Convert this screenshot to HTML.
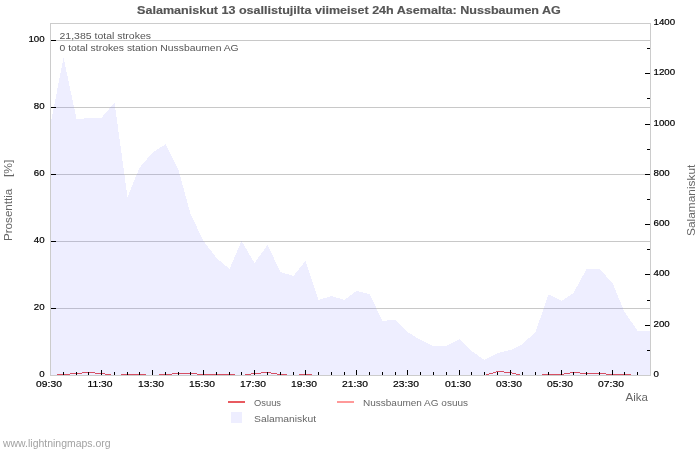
<!DOCTYPE html>
<html><head><meta charset="utf-8"><style>
html,body{margin:0;padding:0;background:#fff;}
body{width:700px;height:450px;overflow:hidden;}
svg{display:block;will-change:transform;}
text{font-family:"Liberation Sans", sans-serif;}
</style></head><body>
<svg width="700" height="450" viewBox="0 0 700 450">
<rect x="0" y="0" width="700" height="450" fill="#fff"/>
<rect x="51" y="40" width="599" height="1" fill="#c8c8c8"/>
<rect x="51" y="107" width="599" height="1" fill="#c8c8c8"/>
<rect x="51" y="174" width="599" height="1" fill="#c8c8c8"/>
<rect x="51" y="241" width="599" height="1" fill="#c8c8c8"/>
<rect x="51" y="308" width="599" height="1" fill="#c8c8c8"/>
<polygon points="51,375 51,122 63.5,57.5 76.5,118.8 88.5,118.3 101.5,117.7 114.5,102.5 127.5,197 139.5,167.7 152.5,152.6 165.5,144.3 178.5,170 190.5,214 203.5,241 216.5,258 229.5,269 241.5,241 254.5,263 267.5,245 280.5,272 293.5,276 305.5,261 318.5,300 331.5,296 344.5,300 356.5,291 369.5,294 382.5,321 395.5,319.5 407.5,332 420.5,340 433.5,346 446.5,346 459.5,339 471.5,351 484.5,360 497.5,353 510.5,350 522.5,344 535.5,332 548.5,294.5 561.5,301 573.5,293 586.5,269 599.5,269 612.5,283 624.5,312 637.5,330.5 650,330.5 650,375" fill="rgb(121,121,255)" fill-opacity="0.127" shape-rendering="crispEdges"/>
<rect x="496" y="371" width="8" height="1" fill="#d64e62"/>
<rect x="82" y="372" width="13" height="1" fill="#d64e62"/>
<rect x="261" y="372" width="10" height="1" fill="#d64e62"/>
<rect x="493" y="372" width="3" height="1" fill="#d64e62"/>
<rect x="504" y="372" width="8" height="1" fill="#d64e62"/>
<rect x="570" y="372" width="10" height="1" fill="#d64e62"/>
<rect x="70" y="373" width="12" height="1" fill="#d64e62"/>
<rect x="95" y="373" width="10" height="1" fill="#d64e62"/>
<rect x="172" y="373" width="25" height="1" fill="#d64e62"/>
<rect x="251" y="373" width="10" height="1" fill="#d64e62"/>
<rect x="271" y="373" width="6" height="1" fill="#d64e62"/>
<rect x="489" y="373" width="4" height="1" fill="#d64e62"/>
<rect x="512" y="373" width="4" height="1" fill="#d64e62"/>
<rect x="564" y="373" width="6" height="1" fill="#d64e62"/>
<rect x="580" y="373" width="26" height="1" fill="#d64e62"/>
<rect x="57" y="374" width="13" height="1" fill="#d64e62"/>
<rect x="105" y="374" width="6" height="1" fill="#d64e62"/>
<rect x="121" y="374" width="25" height="1" fill="#d64e62"/>
<rect x="159" y="374" width="13" height="1" fill="#d64e62"/>
<rect x="197" y="374" width="38" height="1" fill="#d64e62"/>
<rect x="245" y="374" width="6" height="1" fill="#d64e62"/>
<rect x="277" y="374" width="10" height="1" fill="#d64e62"/>
<rect x="299" y="374" width="13" height="1" fill="#d64e62"/>
<rect x="486" y="374" width="3" height="1" fill="#d64e62"/>
<rect x="516" y="374" width="4" height="1" fill="#d64e62"/>
<rect x="542" y="374" width="22" height="1" fill="#d64e62"/>
<rect x="606" y="374" width="25" height="1" fill="#d64e62"/>
<rect x="50" y="23" width="601" height="1" fill="#cccccc"/>
<rect x="50" y="375" width="601" height="1" fill="#cccccc"/>
<rect x="50" y="23" width="1" height="353" fill="#cccccc"/>
<rect x="650" y="23" width="1" height="353" fill="#cccccc"/>
<rect x="51" y="40" width="5" height="1" fill="#000"/>
<rect x="51" y="107" width="5" height="1" fill="#000"/>
<rect x="51" y="174" width="5" height="1" fill="#000"/>
<rect x="51" y="241" width="5" height="1" fill="#000"/>
<rect x="51" y="308" width="5" height="1" fill="#000"/>
<rect x="647" y="350" width="3" height="1" fill="#000"/>
<rect x="645" y="325" width="5" height="1" fill="#000"/>
<rect x="647" y="300" width="3" height="1" fill="#000"/>
<rect x="645" y="274" width="5" height="1" fill="#000"/>
<rect x="647" y="249" width="3" height="1" fill="#000"/>
<rect x="645" y="224" width="5" height="1" fill="#000"/>
<rect x="647" y="199" width="3" height="1" fill="#000"/>
<rect x="645" y="174" width="5" height="1" fill="#000"/>
<rect x="647" y="149" width="3" height="1" fill="#000"/>
<rect x="645" y="124" width="5" height="1" fill="#000"/>
<rect x="647" y="98" width="3" height="1" fill="#000"/>
<rect x="645" y="73" width="5" height="1" fill="#000"/>
<rect x="647" y="48" width="3" height="1" fill="#000"/>
<rect x="63" y="372" width="1" height="3" fill="#000"/>
<rect x="76" y="372" width="1" height="3" fill="#000"/>
<rect x="88" y="372" width="1" height="3" fill="#000"/>
<rect x="101" y="370" width="1" height="5" fill="#000"/>
<rect x="114" y="372" width="1" height="3" fill="#000"/>
<rect x="127" y="372" width="1" height="3" fill="#000"/>
<rect x="139" y="372" width="1" height="3" fill="#000"/>
<rect x="152" y="370" width="1" height="5" fill="#000"/>
<rect x="165" y="372" width="1" height="3" fill="#000"/>
<rect x="178" y="372" width="1" height="3" fill="#000"/>
<rect x="190" y="372" width="1" height="3" fill="#000"/>
<rect x="203" y="370" width="1" height="5" fill="#000"/>
<rect x="216" y="372" width="1" height="3" fill="#000"/>
<rect x="229" y="372" width="1" height="3" fill="#000"/>
<rect x="241" y="372" width="1" height="3" fill="#000"/>
<rect x="254" y="370" width="1" height="5" fill="#000"/>
<rect x="267" y="372" width="1" height="3" fill="#000"/>
<rect x="280" y="372" width="1" height="3" fill="#000"/>
<rect x="293" y="372" width="1" height="3" fill="#000"/>
<rect x="305" y="370" width="1" height="5" fill="#000"/>
<rect x="318" y="372" width="1" height="3" fill="#000"/>
<rect x="331" y="372" width="1" height="3" fill="#000"/>
<rect x="344" y="372" width="1" height="3" fill="#000"/>
<rect x="356" y="370" width="1" height="5" fill="#000"/>
<rect x="369" y="372" width="1" height="3" fill="#000"/>
<rect x="382" y="372" width="1" height="3" fill="#000"/>
<rect x="395" y="372" width="1" height="3" fill="#000"/>
<rect x="407" y="370" width="1" height="5" fill="#000"/>
<rect x="420" y="372" width="1" height="3" fill="#000"/>
<rect x="433" y="372" width="1" height="3" fill="#000"/>
<rect x="446" y="372" width="1" height="3" fill="#000"/>
<rect x="459" y="370" width="1" height="5" fill="#000"/>
<rect x="471" y="372" width="1" height="3" fill="#000"/>
<rect x="484" y="372" width="1" height="3" fill="#000"/>
<rect x="497" y="372" width="1" height="3" fill="#000"/>
<rect x="510" y="370" width="1" height="5" fill="#000"/>
<rect x="522" y="372" width="1" height="3" fill="#000"/>
<rect x="535" y="372" width="1" height="3" fill="#000"/>
<rect x="548" y="372" width="1" height="3" fill="#000"/>
<rect x="561" y="370" width="1" height="5" fill="#000"/>
<rect x="573" y="372" width="1" height="3" fill="#000"/>
<rect x="586" y="372" width="1" height="3" fill="#000"/>
<rect x="599" y="372" width="1" height="3" fill="#000"/>
<rect x="612" y="370" width="1" height="5" fill="#000"/>
<rect x="624" y="372" width="1" height="3" fill="#000"/>
<rect x="637" y="372" width="1" height="3" fill="#000"/>
<text x="44.6" y="42.2" text-anchor="end" font-size="9.7" fill="#000" stroke="#000" stroke-width="0.2">100</text>
<text x="44.6" y="109.2" text-anchor="end" font-size="9.7" fill="#000" stroke="#000" stroke-width="0.2">80</text>
<text x="44.6" y="176.2" text-anchor="end" font-size="9.7" fill="#000" stroke="#000" stroke-width="0.2">60</text>
<text x="44.6" y="243.2" text-anchor="end" font-size="9.7" fill="#000" stroke="#000" stroke-width="0.2">40</text>
<text x="44.6" y="310.2" text-anchor="end" font-size="9.7" fill="#000" stroke="#000" stroke-width="0.2">20</text>
<text x="44.6" y="377.2" text-anchor="end" font-size="9.7" fill="#000" stroke="#000" stroke-width="0.2">0</text>
<text x="653.6" y="377.2" font-size="9.7" fill="#000" stroke="#000" stroke-width="0.2">0</text>
<text x="653.6" y="327.2" font-size="9.7" fill="#000" stroke="#000" stroke-width="0.2">200</text>
<text x="653.6" y="276.2" font-size="9.7" fill="#000" stroke="#000" stroke-width="0.2">400</text>
<text x="653.6" y="226.2" font-size="9.7" fill="#000" stroke="#000" stroke-width="0.2">600</text>
<text x="653.6" y="176.2" font-size="9.7" fill="#000" stroke="#000" stroke-width="0.2">800</text>
<text x="653.6" y="126.2" font-size="9.7" fill="#000" stroke="#000" stroke-width="0.2">1000</text>
<text x="653.6" y="75.2" font-size="9.7" fill="#000" stroke="#000" stroke-width="0.2">1200</text>
<text x="653.6" y="25.2" font-size="9.7" fill="#000" stroke="#000" stroke-width="0.2">1400</text>
<text x="49" y="387.2" text-anchor="middle" font-size="9.7" fill="#000" stroke="#000" stroke-width="0.2" textLength="25.8" lengthAdjust="spacingAndGlyphs">09:30</text>
<text x="100" y="387.2" text-anchor="middle" font-size="9.7" fill="#000" stroke="#000" stroke-width="0.2" textLength="25.05" lengthAdjust="spacingAndGlyphs">11:30</text>
<text x="151" y="387.2" text-anchor="middle" font-size="9.7" fill="#000" stroke="#000" stroke-width="0.2" textLength="25.8" lengthAdjust="spacingAndGlyphs">13:30</text>
<text x="202" y="387.2" text-anchor="middle" font-size="9.7" fill="#000" stroke="#000" stroke-width="0.2" textLength="25.8" lengthAdjust="spacingAndGlyphs">15:30</text>
<text x="253" y="387.2" text-anchor="middle" font-size="9.7" fill="#000" stroke="#000" stroke-width="0.2" textLength="25.8" lengthAdjust="spacingAndGlyphs">17:30</text>
<text x="304" y="387.2" text-anchor="middle" font-size="9.7" fill="#000" stroke="#000" stroke-width="0.2" textLength="25.8" lengthAdjust="spacingAndGlyphs">19:30</text>
<text x="355" y="387.2" text-anchor="middle" font-size="9.7" fill="#000" stroke="#000" stroke-width="0.2" textLength="25.8" lengthAdjust="spacingAndGlyphs">21:30</text>
<text x="406" y="387.2" text-anchor="middle" font-size="9.7" fill="#000" stroke="#000" stroke-width="0.2" textLength="25.8" lengthAdjust="spacingAndGlyphs">23:30</text>
<text x="458" y="387.2" text-anchor="middle" font-size="9.7" fill="#000" stroke="#000" stroke-width="0.2" textLength="25.8" lengthAdjust="spacingAndGlyphs">01:30</text>
<text x="509" y="387.2" text-anchor="middle" font-size="9.7" fill="#000" stroke="#000" stroke-width="0.2" textLength="25.8" lengthAdjust="spacingAndGlyphs">03:30</text>
<text x="560" y="387.2" text-anchor="middle" font-size="9.7" fill="#000" stroke="#000" stroke-width="0.2" textLength="25.8" lengthAdjust="spacingAndGlyphs">05:30</text>
<text x="611" y="387.2" text-anchor="middle" font-size="9.7" fill="#000" stroke="#000" stroke-width="0.2" textLength="25.8" lengthAdjust="spacingAndGlyphs">07:30</text>
<text x="349" y="14" text-anchor="middle" font-size="11" font-weight="bold" fill="#555" stroke="#555" stroke-width="0.15" textLength="423.8" lengthAdjust="spacingAndGlyphs">Salamaniskut 13 osallistujilta viimeiset 24h Asemalta: Nussbaumen AG</text>
<text x="59.5" y="39" font-size="9.5" fill="#555" textLength="91.5" lengthAdjust="spacingAndGlyphs">21,385 total strokes</text>
<text x="59.5" y="51" font-size="9.5" fill="#555" textLength="179.2" lengthAdjust="spacingAndGlyphs">0 total strokes station Nussbaumen AG</text>
<text x="648" y="401" text-anchor="end" font-size="11" fill="#666" textLength="22.4" lengthAdjust="spacingAndGlyphs">Aika</text>
<text transform="translate(12,241) rotate(-90)" x="0" y="0" font-size="11" fill="#666" textLength="52.3" lengthAdjust="spacingAndGlyphs">Prosenttia</text>
<text transform="translate(12,177) rotate(-90)" x="0" y="0" font-size="11" fill="#666" textLength="17.4" lengthAdjust="spacingAndGlyphs">[%]</text>
<text transform="translate(695,236) rotate(-90)" x="0" y="0" font-size="11" fill="#666" textLength="71.4" lengthAdjust="spacingAndGlyphs">Salamaniskut</text>
<rect x="228" y="401" width="17" height="2" fill="#e85a60"/>
<text x="254" y="406" font-size="9.5" fill="#666" textLength="27" lengthAdjust="spacingAndGlyphs">Osuus</text>
<rect x="337" y="401" width="17" height="2" fill="#ff9999"/>
<text x="363" y="406" font-size="9.5" fill="#666" textLength="105" lengthAdjust="spacingAndGlyphs">Nussbaumen AG osuus</text>
<rect x="231" y="412" width="11" height="11" fill="#eeeeff"/>
<text x="254" y="422" font-size="9.5" fill="#666" textLength="62" lengthAdjust="spacingAndGlyphs">Salamaniskut</text>
<text x="3" y="447" font-size="10.5" fill="#a2a2a2" textLength="107.6" lengthAdjust="spacingAndGlyphs">www.lightningmaps.org</text>
</svg>
</body></html>
